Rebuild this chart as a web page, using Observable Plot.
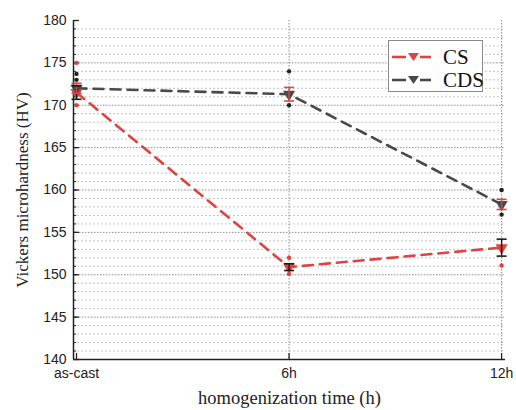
<!DOCTYPE html>
<html>
<head>
<meta charset="utf-8">
<script src="https://cdn.jsdelivr.net/npm/d3@7"></script>
<script src="https://cdn.jsdelivr.net/npm/@observablehq/plot@0.6"></script>
<style>
  html, body { margin: 0; padding: 0; background: #fff; }
  #wrap { position: relative; width: 516px; height: 410px; }
  #legend { position: absolute; left: 388px; top: 40px; width: 95px; height: 52px;
    border: 1px solid #8a8a8a; background: #fff; box-sizing: border-box; }
  #legend .row { position: absolute; left: 0; height: 24px; display: flex; align-items: center; }
  #legend .row span { font-family: "Liberation Serif", "Times New Roman", serif; font-size: 21px; color: #111; margin-left: 10px; }
</style>
</head>
<body>
<div id="wrap">
  <div id="chart"></div>
  <div id="legend"></div>
</div>
<script>
// ---- data ----
const categories = ["as-cast", "6h", "12h"];
const hours = [0, 6, 12];
const seriesNames = ["CS", "CDS"];
const csMean = [171.5, 150.9, 153.2];
const csErr = [0.8, 0.4, 1.0];
const cdsMean = [172.0, 171.3, 158.3];
const cdsErr = [0.6, 0.8, 0.6];
// individual measurements
const csPointsHour = [0, 0, 6, 6, 12];
const csPointsVal = [175.0, 170.0, 152.0, 150.1, 151.1];
const cdsPointsHour = [0, 0, 6, 6, 12, 12];
const cdsPointsVal = [173.7, 173.0, 174.0, 170.0, 160.0, 157.1];
const yMajorTicks = [140, 145, 150, 155, 160, 165, 170, 175, 180];

// ---- styles ----
const RED = "#dd4441";
const DARK = "#4a4a4a";
const colorOf = {CS: RED, CDS: DARK};
const errColorOf = {CS: "#1a1a1a", CDS: RED};

const rows = [];
seriesNames.forEach(s => {
  const m = s === "CS" ? csMean : cdsMean;
  const e = s === "CS" ? csErr : cdsErr;
  hours.forEach((h, i) => rows.push({series: s, hour: h, cat: categories[i], mean: m[i], err: e[i]}));
});
const pts = [
  ...csPointsHour.map((h, i) => ({series: "CS", hour: h, v: csPointsVal[i]})),
  ...cdsPointsHour.map((h, i) => ({series: "CDS", hour: h, v: cdsPointsVal[i]}))
];

const minorTicks = d3.range(140, 181);
const gridMinor = minorTicks.filter(v => v % 5 !== 0 && v !== 180);
const gridMajor = yMajorTicks.filter(v => v !== 140 && v !== 180);
const xDomain = [-0.085, 12.11];

const capSymbol = { draw(ctx, size) { const r = Math.sqrt(size / Math.PI); ctx.moveTo(-r, 0); ctx.lineTo(r, 0); } };

const chart = Plot.plot({
  width: 516, height: 410,
  marginLeft: 73, marginRight: 11, marginTop: 20, marginBottom: 51,
  style: {background: "#fff", overflow: "visible"},
  x: {type: "linear", domain: xDomain, axis: null},
  y: {domain: [140, 180], axis: null},
  marks: [
    Plot.ruleY(gridMinor, {stroke: "#bdbdbd", strokeDasharray: "2,2", strokeWidth: 0.9}),
    Plot.ruleY(gridMajor, {stroke: "#8f8f8f", strokeDasharray: "1.5,1.5", strokeWidth: 1}),
    Plot.ruleX(hours.slice(1), {stroke: "#8f8f8f", strokeDasharray: "1.5,1.5", strokeWidth: 1}),
    // axes lines
    Plot.ruleY([140], {stroke: "#222", strokeWidth: 1.5}),
    Plot.ruleX([xDomain[0]], {stroke: "#222", strokeWidth: 1.5}),
    // y ticks
    Plot.axisY({ticks: minorTicks, tickSize: -3, text: null, label: null, stroke: "#222"}),
    Plot.axisY({ticks: yMajorTicks, tickSize: -6, text: null, label: null, stroke: "#222", strokeWidth: 1.3}),
    Plot.axisY({ticks: yMajorTicks, tickSize: 0, tickPadding: 7, label: null, fontSize: 14,
      fontFamily: "Liberation Sans, Arial, sans-serif", fill: "#222"}),
    // x ticks
    Plot.axisX({ticks: hours, tickSize: -6, text: null, label: null, stroke: "#222", strokeWidth: 1.3}),
    Plot.axisX({ticks: hours, tickSize: 0, tickPadding: 9, label: null, fontSize: 14,
      tickFormat: h => categories[hours.indexOf(h)],
      fontFamily: "Liberation Sans, Arial, sans-serif", fill: "#222"}),
    // axis titles
    Plot.text(["Vickers microhardness (HV)"], {frameAnchor: "left", rotate: -90, dx: -51,
      textAnchor: "middle", lineAnchor: "middle",
      fontSize: 17, fontFamily: "Liberation Serif, Times New Roman, serif", fill: "#222"}),
    Plot.text(["homogenization time (h)"], {frameAnchor: "bottom", dy: 39,
      textAnchor: "middle", lineAnchor: "middle",
      fontSize: 18.5, fontFamily: "Liberation Serif, Times New Roman, serif", fill: "#222"}),
    // lines
    Plot.line(rows, {x: "hour", y: "mean", z: "series", stroke: d => colorOf[d.series],
      strokeWidth: 2.6, strokeDasharray: "10,7"}),
    // markers
    Plot.dot(rows, {x: "hour", y: "mean", symbol: "triangle", rotate: 180, r: 4.5,
      fill: d => colorOf[d.series], stroke: "none"}),
    // error bars
    Plot.ruleX(rows, {x: "hour", y1: d => d.mean - d.err, y2: d => d.mean + d.err,
      stroke: d => errColorOf[d.series], strokeWidth: 1.4}),
    Plot.dot(rows, {x: "hour", y: d => d.mean - d.err, symbol: capSymbol, r: 5,
      stroke: d => errColorOf[d.series], strokeWidth: 1.6, fill: "none"}),
    Plot.dot(rows, {x: "hour", y: d => d.mean + d.err, symbol: capSymbol, r: 5,
      stroke: d => errColorOf[d.series], strokeWidth: 1.6, fill: "none"}),
    // individual points
    Plot.dot(pts, {x: "hour", y: "v", r: 2.2, fill: d => d.series === "CS" ? RED : "#222", stroke: "none"})
  ]
});
document.getElementById("chart").appendChild(chart);

// legend
const legend = document.getElementById("legend");
seriesNames.forEach((s, i) => {
  const row = document.createElement("div");
  row.className = "row";
  row.style.top = (i === 0 ? 4 : 27) + "px";
  const c = colorOf[s];
  row.innerHTML = `<svg width="44" height="24" style="display:block">
      <line x1="3" y1="12" x2="17" y2="12" stroke="${c}" stroke-width="2.6"/>
      <line x1="31" y1="12" x2="42" y2="12" stroke="${c}" stroke-width="2.6"/>
      <path d="M19,8 L30,8 L24.5,16 Z" fill="${c}"/>
    </svg><span>${s}</span>`;
  legend.appendChild(row);
});
</script>
</body>
</html>
